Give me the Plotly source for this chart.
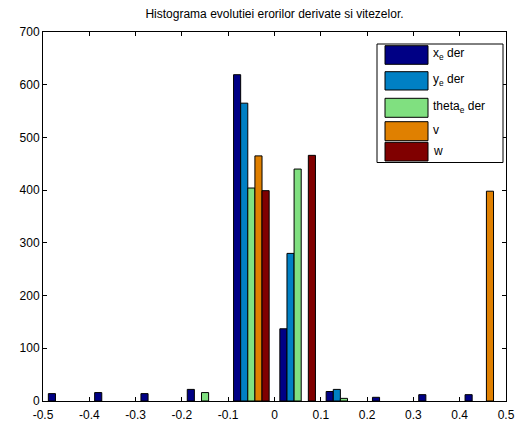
import plotly.graph_objects as go

# ---- data ----
bin_centers = [-0.45, -0.35, -0.25, -0.15, -0.05, 0.05, 0.15, 0.25, 0.35, 0.45]
xe_der = [14, 16, 14, 22, 619, 137, 18, 7, 12, 12]
ye_der = [0, 0, 0, 0, 565, 280, 22, 0, 0, 0]
theta_der = [0, 0, 0, 16, 404, 440, 5, 0, 0, 0]
v_vals = [0, 0, 0, 0, 465, 0, 0, 0, 0, 398]
w_vals = [0, 0, 0, 0, 399, 466, 0, 0, 0, 0]
series_names = ["x<sub>e</sub> der", "y<sub>e</sub> der", "theta<sub>e</sub> der", "v", "w"]
series_colors = ["#000085", "#0080C4", "#80E080", "#E08000", "#800000"]
x_ticks = [-0.5, -0.4, -0.3, -0.2, -0.1, 0, 0.1, 0.2, 0.3, 0.4, 0.5]
x_ticklabels = ["-0.5", "-0.4", "-0.3", "-0.2", "-0.1", "0", "0.1", "0.2", "0.3", "0.4", "0.5"]
y_ticks = [0, 100, 200, 300, 400, 500, 600, 700]

W, H = 520, 425
L, R, T, B = 43, 14, 32, 24
pw, ph = W - L - R, H - T - B

def px(xp):
    return (xp - L) / pw

def py(yp):
    return (H - B - yp) / ph

fig = go.Figure()
all_series = [xe_der, ye_der, theta_der, v_vals, w_vals]
for name, vals, col in zip(series_names, all_series, series_colors):
    shown = [v if v != 0 else None for v in vals]
    fig.add_trace(go.Bar(x=bin_centers, y=shown, name=name,
                         marker=dict(color=col, line=dict(color="black", width=1)),
                         showlegend=False))

font = dict(family="Liberation Sans, Arial, sans-serif", size=12, color="black")

# custom MATLAB-like legend
shapes = [dict(type="rect", xref="paper", yref="paper",
               x0=px(377), x1=px(503), y0=py(162.5), y1=py(44),
               line=dict(color="black", width=1), fillcolor="white", layer="above")]
annotations = []
rows = [(45.7, 64.3), (71.7, 90), (98.3, 117.3), (121.7, 140.7), (142.3, 161)]
for (y0, y1), name, col in zip(rows, series_names, series_colors):
    shapes.append(dict(type="rect", xref="paper", yref="paper",
                       x0=px(385), x1=px(428), y0=py(y1), y1=py(y0),
                       line=dict(color="black", width=1), fillcolor=col, layer="above"))
    annotations.append(dict(xref="paper", yref="paper", x=px(431), y=py((y0 + y1) / 2 - 1),
                            text=name, showarrow=False, xanchor="left", yanchor="middle",
                            font=font))

fig.update_layout(
    width=W, height=H,
    margin=dict(l=L, r=R, t=T, b=B, pad=0, autoexpand=False),
    paper_bgcolor="white", plot_bgcolor="white",
    barmode="group", bargap=0.231, bargroupgap=0,
    title=dict(text="Histograma evolutiei erorilor derivate si vitezelor.",
               x=0.5, xref="paper", xanchor="center", y=1 - 14 / H, yanchor="middle",
               font=font),
    font=font,
    shapes=shapes,
    annotations=annotations,
)
fig.update_xaxes(range=[-0.5, 0.5], tickvals=x_ticks, ticktext=x_ticklabels,
                 showgrid=False, zeroline=False, showline=True, linecolor="black", linewidth=1,
                 mirror="allticks", ticks="inside", ticklen=4, tickcolor="black", tickfont=font,
                 ticklabelstandoff=3, automargin=False)
fig.update_yaxes(range=[0, 700], tickvals=y_ticks,
                 showgrid=False, zeroline=False, showline=True, linecolor="black", linewidth=1,
                 mirror="allticks", ticks="inside", ticklen=4, tickcolor="black", tickfont=font,
                 automargin=False)

fig.write_html("out.html")
